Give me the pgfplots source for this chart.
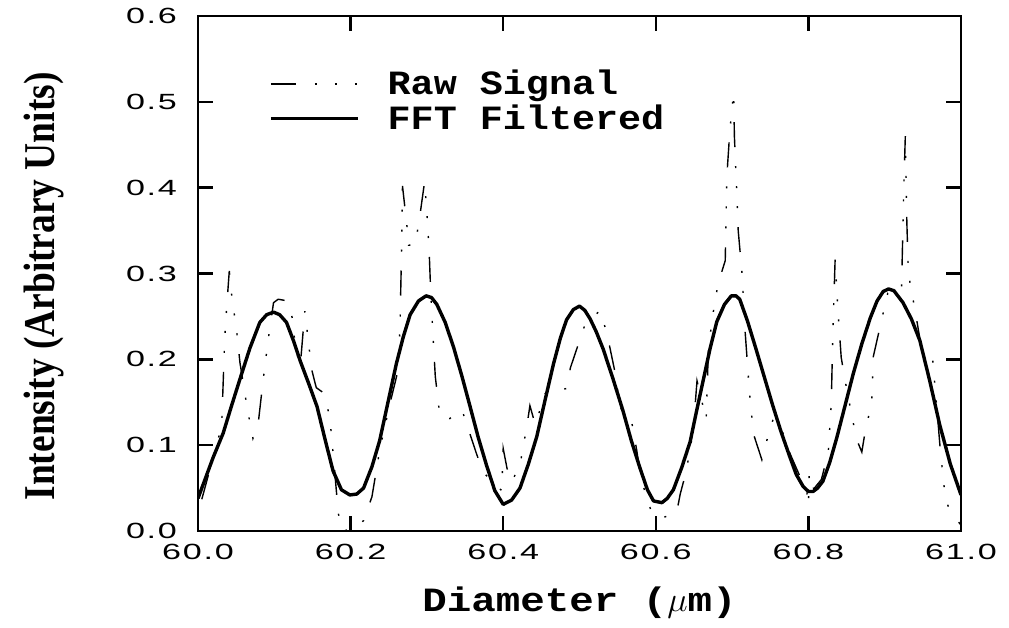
\documentclass[border=0pt]{standalone}
\usepackage{pgfplots}
\pgfplotsset{compat=1.18}
\usepackage{fontspec}
\setmainfont{Liberation Serif}
\newfontfamily\tickfont[FakeStretch=1.55,LetterSpace=8]{Liberation Sans}
\newfontfamily\cfont[FakeStretch=1.13]{Liberation Mono}
\newfontfamily\xlabfont[FakeStretch=1.2]{Liberation Mono}
\newfontfamily\ylabfont[FakeStretch=0.85]{Liberation Serif}
\begin{document}
\begin{tikzpicture}
\begin{axis}[
  scale only axis,
  width=381.5pt, height=257.5pt,
  xmin=60, xmax=61, ymin=0, ymax=0.6,
  xtick={60,60.2,60.4,60.6,60.8,61.0},
  ytick={0,0.1,0.2,0.3,0.4,0.5,0.6},
  scaled ticks=false,
  xtick pos=both, ytick pos=both,
  tick align=inside,
  major tick length=7.5pt,
  axis line style={line width=1.4pt},
  major tick style={line width=1.2pt, black},
  /pgf/number format/assume math mode=true,
  /pgf/number format/fixed,
  /pgf/number format/fixed zerofill,
  /pgf/number format/precision=1,
  xticklabel style={font=\fontsize{11}{13}\selectfont\tickfont, yshift=-3pt},
  yticklabel style={font=\fontsize{11}{13}\selectfont\tickfont, xshift=-7pt},
  xlabel={\xlabfont\bfseries Diameter ($\mu$m)},
  xlabel style={font=\fontsize{17}{20}\selectfont, at={(axis description cs:0.5,-0.14)}, anchor=center},
  ylabel={\ylabfont\bfseries Intensity (Arbitrary Units)},
  ylabel style={font=\fontsize{22}{26}\selectfont, at={(axis description cs:-0.202,0.475)}, anchor=center},
  legend style={draw=none, fill=none, at={(axis description cs:0.085,0.905)}, anchor=north west,
    font=\fontsize{17}{20}\selectfont\cfont\bfseries, row sep=2.5pt, column sep=13.5pt,
    nodes={inner sep=0.5pt}},
  legend cell align=left,
  legend image code/.code={\draw[#1] (0pt,0pt) -- (43.5pt,0pt);},
]
\addplot[black, line width=0.7pt, dash pattern=on 12.5pt off 9.5pt on 1pt off 9pt on 1pt off 9pt on 1pt off 9.5pt] coordinates {
(60.005,0.037) (60.031,0.122) (60.035,0.224) (60.038,0.266) (60.041,0.303) (60.044,0.276)
(60.051,0.230) (60.055,0.196) (60.062,0.157) (60.066,0.136) (60.072,0.108) (60.079,0.126)
(60.085,0.173) (60.092,0.223) (60.099,0.266) (60.105,0.270) (60.118,0.268) (60.125,0.243)
(60.127,0.215) (60.134,0.192) (60.140,0.256) (60.149,0.188) (60.155,0.167) (60.166,0.160)
(60.173,0.130) (60.177,0.091) (60.182,0.040) (60.184,0.020) (60.190,0.000) (60.205,0.003)
(60.217,0.012) (60.228,0.040) (60.236,0.083) (60.241,0.106) (60.252,0.150) (60.263,0.190)
(60.265,0.250) (60.267,0.336) (60.268,0.402) (60.274,0.354) (60.276,0.333) (60.284,0.333)
(60.289,0.356) (60.297,0.407) (60.300,0.371) (60.303,0.325) (60.305,0.278) (60.308,0.227)
(60.311,0.180) (60.317,0.134) (60.330,0.131) (60.346,0.141) (60.365,0.090) (60.374,0.068)
(60.398,0.047) (60.400,0.096) (60.405,0.073) (60.411,0.057) (60.422,0.077) (60.431,0.122)
(60.435,0.146) (60.442,0.124) (60.455,0.160) (60.483,0.166) (60.488,0.190) (60.507,0.240)
(60.527,0.257) (60.536,0.230) (60.547,0.183) (60.553,0.144) (60.568,0.129) (60.575,0.094)
(60.579,0.070) (60.584,0.051) (60.595,0.020) (60.610,0.016) (60.627,0.020) (60.632,0.043)
(60.640,0.070) (60.649,0.117) (60.654,0.175) (60.666,0.130) (60.669,0.214) (60.678,0.272)
(60.684,0.295) (60.691,0.315) (60.693,0.412) (60.697,0.466) (60.702,0.511) (60.703,0.460)
(60.706,0.397) (60.708,0.350) (60.713,0.300) (60.717,0.233) (60.723,0.159) (60.728,0.113)
(60.739,0.083) (60.745,0.104) (60.754,0.131) (60.765,0.118) (60.776,0.090) (60.798,0.045)
(60.800,0.030) (60.801,0.068) (60.807,0.049) (60.817,0.060) (60.826,0.091) (60.830,0.149)
(60.832,0.231) (60.835,0.316) (60.839,0.253) (60.843,0.202) (60.850,0.166) (60.863,0.107)
(60.870,0.092) (60.874,0.114) (60.883,0.150) (60.885,0.203) (60.898,0.254) (60.904,0.277)
(60.922,0.280) (60.925,0.400) (60.927,0.460) (60.929,0.360) (60.931,0.300) (60.940,0.256)
(60.948,0.214) (60.963,0.198) (60.969,0.136) (60.973,0.093) (60.979,0.042) (60.985,0.023)
(61.000,0.007)
};
\addlegendentry{Raw Signal}
\addplot[black, line width=1.7pt, line join=round] coordinates {
(60.000,0.038) (60.010,0.062) (60.020,0.086) (60.033,0.114) (60.044,0.146) (60.055,0.177)
(60.068,0.213) (60.081,0.243) (60.090,0.252) (60.099,0.255) (60.107,0.252) (60.116,0.243)
(60.125,0.222) (60.134,0.198) (60.145,0.172) (60.156,0.145) (60.167,0.105) (60.177,0.070)
(60.188,0.048) (60.199,0.042) (60.208,0.043) (60.217,0.050) (60.228,0.075) (60.238,0.105)
(60.249,0.150) (60.260,0.195) (60.269,0.226) (60.278,0.252) (60.289,0.268) (60.299,0.274)
(60.306,0.272) (60.313,0.264) (60.324,0.243) (60.335,0.214) (60.346,0.180) (60.356,0.147)
(60.367,0.110) (60.378,0.077) (60.389,0.047) (60.400,0.031) (60.411,0.036) (60.422,0.050)
(60.433,0.078) (60.444,0.110) (60.455,0.153) (60.466,0.195) (60.475,0.225) (60.483,0.246)
(60.492,0.258) (60.500,0.262) (60.507,0.257) (60.514,0.247) (60.522,0.232) (60.531,0.212)
(60.544,0.177) (60.557,0.140) (60.568,0.105) (60.579,0.074) (60.589,0.048) (60.597,0.035)
(60.608,0.033) (60.615,0.038) (60.623,0.048) (60.634,0.074) (60.645,0.104) (60.653,0.138)
(60.662,0.175) (60.671,0.212) (60.680,0.244) (60.690,0.264) (60.699,0.274) (60.705,0.274)
(60.710,0.270) (60.720,0.245) (60.731,0.213) (60.742,0.180) (60.753,0.147) (60.764,0.116)
(60.775,0.088) (60.784,0.066) (60.793,0.052) (60.800,0.046) (60.806,0.046) (60.812,0.050)
(60.819,0.058) (60.828,0.080) (60.837,0.108) (60.848,0.146) (60.859,0.184) (60.870,0.218)
(60.881,0.248) (60.890,0.268) (60.898,0.279) (60.905,0.282) (60.912,0.280) (60.924,0.266)
(60.935,0.247) (60.946,0.222) (60.959,0.175) (60.972,0.124) (60.986,0.078) (61.000,0.042)
};
\addlegendentry{FFT Filtered}
\end{axis}
\pgfresetboundingbox
\path ([xshift=-99pt,yshift=-48.5pt]current axis.south west) rectangle ([xshift=24pt,yshift=8pt]current axis.north east);
\end{tikzpicture}
\end{document}
